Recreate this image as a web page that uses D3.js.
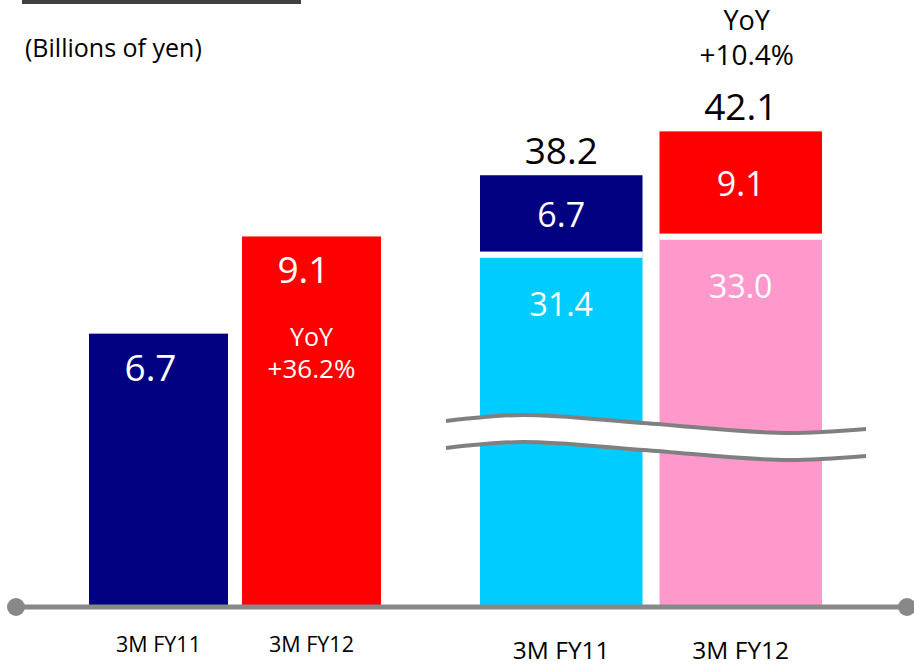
<!DOCTYPE html>
<html>
<head>
<meta charset="utf-8">
<script src="https://d3js.org/d3.v7.min.js"></script>
<style>
  body { margin: 0; background: #fff; }
  svg text { font-family: "Open Sans", sans-serif; }
</style>
</head>
<body>
<script>
// chart data
var groups = ["3M FY11", "3M FY12"];
var leftValues = [6.7, 9.1];
var leftYoY = "+36.2%";
var rightBase = [31.4, 33.0];
var rightTop = [6.7, 9.1];
var rightTotals = [38.2, 42.1];
var rightYoY = "+10.4%";
var leftColors = ["#000080", "#ff0000"];
var baseColors = ["#00ccff", "#ff99cc"];

var width = 914, height = 665, base = 605;

var svg = d3.select("body").append("svg")
  .attr("width", width)
  .attr("height", height);

// header rule and unit
svg.append("rect").attr("x", 22).attr("y", 0).attr("width", 279).attr("height", 4).attr("fill", "#404040");
svg.append("text").attr("x", 25).attr("y", 57).style("font-size", "25px").attr("fill", "#000").text("(Billions of yen)");

// scales
var xL = d3.scaleBand().domain(groups).range([89, 381]).paddingInner(0.0915).paddingOuter(0);
var yL = d3.scaleLinear().domain([0, 10]).range([base, base - 405]);
var xR = d3.scaleBand().domain(groups).range([480, 822]).paddingInner(0.0947).paddingOuter(0);
var yR = d3.scaleLinear().domain([0, 45]).range([base, base - 45 * 11.25]);

// left bars
var left = svg.append("g");
left.selectAll("rect").data(groups).enter().append("rect")
  .attr("x", function(d) { return xL(d); })
  .attr("y", function(d, i) { return yL(leftValues[i]); })
  .attr("width", xL.bandwidth())
  .attr("height", function(d, i) { return base - yL(leftValues[i]); })
  .attr("fill", function(d, i) { return leftColors[i]; });

left.selectAll("text.val").data(groups).enter().append("text")
  .attr("class", "val")
  .attr("x", function(d) { return xL(d) + xL.bandwidth() / 2 - 8; })
  .attr("y", function(d, i) { return yL(leftValues[i]) + 47; })
  .attr("text-anchor", "middle").attr("fill", "#fff").style("font-size", "37px")
  .text(function(d, i) { return leftValues[i].toFixed(1); });

var cx2 = xL(groups[1]) + xL.bandwidth() / 2;
left.append("text").attr("x", cx2).attr("y", yL(leftValues[1]) + 110)
  .attr("text-anchor", "middle").attr("fill", "#fff").style("font-size", "25px").text("YoY");
left.append("text").attr("x", cx2).attr("y", yL(leftValues[1]) + 142)
  .attr("text-anchor", "middle").attr("fill", "#fff").style("font-size", "26px").text(leftYoY);

// right stacked bars
var right = svg.append("g");
right.selectAll("rect.base").data(groups).enter().append("rect")
  .attr("class", "base")
  .attr("x", function(d) { return xR(d); })
  .attr("y", function(d, i) { return yR(rightBase[i]); })
  .attr("width", xR.bandwidth())
  .attr("height", function(d, i) { return base - yR(rightBase[i]); })
  .attr("fill", function(d, i) { return baseColors[i]; });

right.selectAll("rect.top").data(groups).enter().append("rect")
  .attr("class", "top")
  .attr("x", function(d) { return xR(d); })
  .attr("y", function(d, i) { return yR(rightTotals[i]); })
  .attr("width", xR.bandwidth())
  .attr("height", function(d, i) { return yR(rightBase[i]) - yR(rightTotals[i]); })
  .attr("fill", function(d, i) { return leftColors[i]; });

// white gap between segments
right.selectAll("rect.gap").data(groups).enter().append("rect")
  .attr("class", "gap")
  .attr("x", function(d) { return xR(d); })
  .attr("y", function(d, i) { return yR(rightBase[i]); })
  .attr("width", xR.bandwidth())
  .attr("height", 6)
  .attr("fill", "#fff");

right.selectAll("text.tot").data(groups).enter().append("text")
  .attr("class", "tot")
  .attr("x", function(d) { return xR(d) + xR.bandwidth() / 2; })
  .attr("y", function(d, i) { return yR(rightTotals[i]) - 11; })
  .attr("text-anchor", "middle").attr("fill", "#000").style("font-size", "37px")
  .text(function(d, i) { return rightTotals[i].toFixed(1); });

right.selectAll("text.topv").data(groups).enter().append("text")
  .attr("class", "topv")
  .attr("x", function(d) { return xR(d) + xR.bandwidth() / 2; })
  .attr("y", function(d, i) { return (yR(rightBase[i]) + yR(rightTotals[i])) / 2 + 13; })
  .attr("text-anchor", "middle").attr("fill", "#fff").style("font-size", "34px")
  .text(function(d, i) { return rightTop[i].toFixed(1); });

right.selectAll("text.basev").data(groups).enter().append("text")
  .attr("class", "basev")
  .attr("x", function(d) { return xR(d) + xR.bandwidth() / 2; })
  .attr("y", function(d, i) { return yR(rightBase[i]) + 64; })
  .attr("text-anchor", "middle").attr("fill", "#fff").style("font-size", "32px")
  .text(function(d, i) { return rightBase[i].toFixed(1); });

var cx4 = xR(groups[1]) + xR.bandwidth() / 2 + 6;
right.append("text").attr("x", cx4).attr("y", yR(rightTotals[1]) - 101)
  .attr("text-anchor", "middle").attr("fill", "#000").style("font-size", "27px").text("YoY");
right.append("text").attr("x", cx4).attr("y", yR(rightTotals[1]) - 66)
  .attr("text-anchor", "middle").attr("fill", "#000").style("font-size", "28px").text(rightYoY);

// axis break (wavy double line)
var wave = [[446, 421], [523, 415], [643, 423], [790, 433], [866, 429]];
var gapW = 27;
var line = d3.line().curve(d3.curveMonotoneX);
var lower = wave.map(function(p) { return [p[0], p[1] + gapW]; });
// white fill between the two waves
var areaGen = d3.area().curve(d3.curveMonotoneX)
  .x(function(p) { return p[0]; })
  .y0(function(p) { return p[1]; })
  .y1(function(p) { return p[1] + gapW; });
svg.append("path").attr("d", areaGen(wave)).attr("fill", "#fff");
svg.append("path").attr("d", line(wave)).attr("fill", "none").attr("stroke", "#808080").attr("stroke-width", 4);
svg.append("path").attr("d", line(lower)).attr("fill", "none").attr("stroke", "#808080").attr("stroke-width", 4);

// baseline axis
svg.append("line").attr("x1", 16).attr("x2", 907).attr("y1", 607).attr("y2", 607)
  .attr("stroke", "#888").attr("stroke-width", 5);
svg.append("circle").attr("cx", 16).attr("cy", 607).attr("r", 9).attr("fill", "#888");
svg.append("circle").attr("cx", 907).attr("cy", 607).attr("r", 9).attr("fill", "#888");

// category labels
svg.selectAll("text.catL").data(groups).enter().append("text")
  .attr("class", "catL")
  .attr("x", function(d) { return xL(d) + xL.bandwidth() / 2; })
  .attr("y", 652)
  .attr("text-anchor", "middle").attr("fill", "#000").style("font-size", "21.5px")
  .text(function(d) { return d; });
svg.selectAll("text.catR").data(groups).enter().append("text")
  .attr("class", "catR")
  .attr("x", function(d) { return xR(d) + xR.bandwidth() / 2; })
  .attr("y", 659)
  .attr("text-anchor", "middle").attr("fill", "#000").style("font-size", "24.5px")
  .text(function(d) { return d; });
</script>
</body>
</html>
